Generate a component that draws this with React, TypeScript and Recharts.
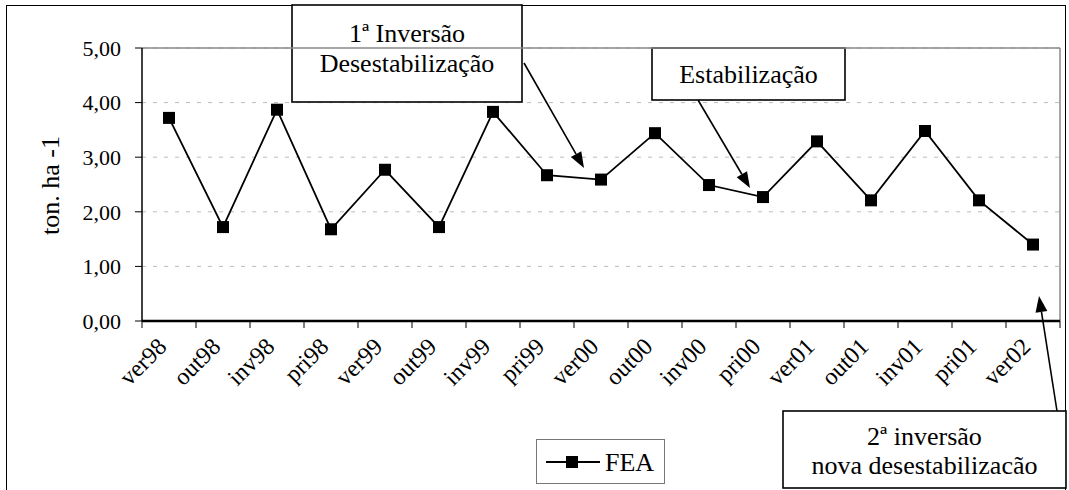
import React from 'react';
import { LineChart, Line, XAxis, YAxis, CartesianGrid, Legend, ReferenceLine, Customized } from 'recharts';

const seasons = ['ver98', 'out98', 'inv98', 'pri98', 'ver99', 'out99', 'inv99', 'pri99', 'ver00',
  'out00', 'inv00', 'pri00', 'ver01', 'out01', 'inv01', 'pri01', 'ver02'];
const fea = [3.72, 1.72, 3.87, 1.68, 2.77, 1.72, 3.83, 2.67, 2.59, 3.44, 2.49, 2.27, 3.29, 2.21, 3.48, 2.21, 1.40];
const yTicks = [0, 1, 2, 3, 4, 5];

const data = seasons.map((s, i) => ({ name: s, FEA: fea[i] }));

const FONT = '"Liberation Serif", "Times New Roman", serif';
const W = 1069;
const H = 490;
const PLOT_LEFT = 142;
const PLOT_RIGHT = 1060;
const bandW = (PLOT_RIGHT - PLOT_LEFT) / seasons.length;

const Square = (props: any) => {
  const { cx, cy } = props;
  if (cx == null || cy == null) return null;
  return <rect x={cx - 6} y={cy - 6} width={12} height={12} fill="#000" />;
};

const XTick = (props: any) => {
  const { x, y, payload, index } = props;
  const left = x - bandW / 2;
  const tx = x - 1;
  const ty = y + 27;
  return (
    <g>
      <line x1={left} y1={y} x2={left} y2={y + 7} stroke="#000" strokeWidth={1} />
      {index === seasons.length - 1 && (
        <line x1={left + bandW} y1={y} x2={left + bandW} y2={y + 7} stroke="#000" strokeWidth={1} />
      )}
      <text x={tx} y={ty} transform={`rotate(-45 ${tx} ${ty})`} textAnchor="end"
        fontFamily={FONT} fontSize={24} fill="#000">{payload.value}</text>
    </g>
  );
};

const YLabel = (props: any) => {
  const { viewBox } = props;
  const cx = viewBox.x - 32;
  const cy = viewBox.y + viewBox.height / 2 + 1;
  return (
    <text x={cx} y={cy} transform={`rotate(-90 ${cx} ${cy})`} textAnchor="middle"
      dominantBaseline="central" fontFamily={FONT} fontSize={26} fill="#000">ton. ha -1</text>
  );
};

const LegendBox = () => (
  <div style={{ width: 127, height: 43, border: '1.5px solid #777', background: '#fff', position: 'relative' }}>
    <svg width={127} height={43} style={{ position: 'absolute', left: 0, top: 0 }}>
      <line x1={9} y1={22} x2={63} y2={22} stroke="#000" strokeWidth={2} />
      <rect x={29} y={16} width={12} height={12} fill="#000" />
      <text x={68} y={31} fontFamily={FONT} fontSize={26} fill="#000">FEA</text>
    </svg>
  </div>
);

const Arrow = ({ x1, y1, x2, y2 }: { x1: number; y1: number; x2: number; y2: number }) => {
  const ang = Math.atan2(y2 - y1, x2 - x1);
  const len = 16;
  const half = 6;
  const bx = x2 - len * Math.cos(ang);
  const by = y2 - len * Math.sin(ang);
  const px = -Math.sin(ang) * half;
  const py = Math.cos(ang) * half;
  return (
    <g>
      <line x1={x1} y1={y1} x2={bx} y2={by} stroke="#000" strokeWidth={1.6} />
      <polygon points={`${x2},${y2} ${bx + px},${by + py} ${bx - px},${by - py}`} fill="#000" />
    </g>
  );
};

const Box = ({ x, y, w, h, lines, baselines }: { x: number; y: number; w: number; h: number; lines: string[]; baselines: number[] }) => (
  <g>
    <rect x={x} y={y} width={w} height={h} fill="#fff" stroke="#000" strokeWidth={1.6} />
    {lines.map((t, i) => (
      <text key={i} x={x + w / 2} y={baselines[i]} textAnchor="middle" fontFamily={FONT} fontSize={26} fill="#000">{t}</text>
    ))}
  </g>
);

const Annotations = () => (
  <g>
    <line x1={PLOT_RIGHT} y1={48} x2={PLOT_RIGHT} y2={321} stroke="#888" strokeWidth={1.5} />
    <Arrow x1={524} y1={63} x2={584} y2={168} />
    <Arrow x1={698} y1={100} x2={750} y2={188} />
    <Arrow x1={1057} y1={411} x2={1039} y2={296} />
    <Box x={292} y={5} w={230} h={97} lines={['1ª Inversão', 'Desestabilização']} baselines={[42, 72]} />
    <Box x={652} y={48} w={193} h={52} lines={['Estabilização']} baselines={[83]} />
    <Box x={783} y={411} w={283} h={77} lines={['2ª inversão', 'nova desestabilizacão']} baselines={[445, 474]} />
  </g>
);

export default function App() {
  return (
    <div style={{ position: 'absolute', left: 0, top: 0, width: W, height: H, overflow: 'hidden', background: '#fff' }}>
      <div style={{ position: 'absolute', left: 6, top: 5, width: 1058, height: 520, border: '1.5px solid #000' }} />
      <div style={{ position: 'absolute', left: 0, top: 0 }}>
        <LineChart width={W} height={H} data={data} margin={{ top: 48, right: W - PLOT_RIGHT, left: PLOT_LEFT - 60, bottom: 89 }}>
          <CartesianGrid vertical={false} stroke="#bbb" strokeDasharray="4 7" />
          <ReferenceLine y={5} stroke="#888" strokeWidth={1.5} />
          <XAxis dataKey="name" interval={0} height={80} tickLine={false} tickSize={0} tickMargin={0}
            padding={{ left: bandW / 2, right: bandW / 2 }}
            tick={<XTick />} axisLine={{ stroke: '#000', strokeWidth: 2.5 }} />
          <YAxis width={60} domain={[0, 5]} ticks={yTicks} interval={0} tickSize={7} tickMargin={14}
            tickFormatter={(v: number) => v.toFixed(2).replace('.', ',')}
            tick={{ fontFamily: FONT, fontSize: 22, fill: '#000' }}
            axisLine={{ stroke: '#000', strokeWidth: 1.5 }} tickLine={{ stroke: '#000' }}
            label={<YLabel />} />
          <Line type="linear" dataKey="FEA" stroke="#000" strokeWidth={1.8} dot={<Square />}
            activeDot={false} isAnimationActive={false} />
          <Legend layout="vertical" align="center" verticalAlign="middle" content={<LegendBox />}
            wrapperStyle={{ left: 536, top: 439, width: 130, height: 46 }} />
          <Customized component={<Annotations />} />
        </LineChart>
      </div>
    </div>
  );
}
